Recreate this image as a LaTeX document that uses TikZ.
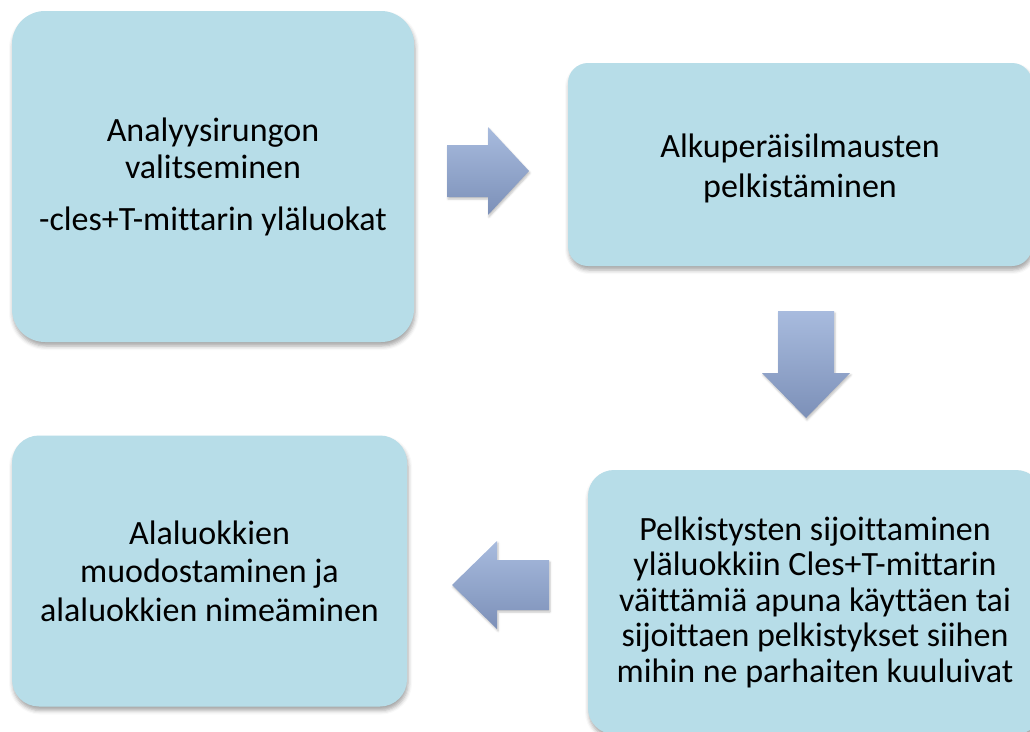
\documentclass[tikz,border=0pt]{standalone}
\usepackage{fontspec}
\setmainfont{Carlito}[Ligatures=NoCommon]
\usetikzlibrary{shadows.blur}
\definecolor{boxfill}{RGB}{183,221,232}
\definecolor{arrtop}{RGB}{168,187,222}
\definecolor{arrbot}{RGB}{124,144,184}
\tikzset{
  stepbox/.style={fill=boxfill, draw=none, align=center, text=black,
    font=\fontsize{34}{37}\selectfont, inner sep=0pt,
    blur shadow={shadow xshift=1pt, shadow yshift=-4pt, shadow blur radius=4pt, shadow opacity=35}},
  steptext/.style={align=center, text=black, inner sep=0pt},
  blockarrow/.style={top color=arrtop, bottom color=arrbot, draw=none,
    blur shadow={shadow xshift=1pt, shadow yshift=-2pt, shadow blur radius=2pt, shadow opacity=25}}
}
\begin{document}
\begin{tikzpicture}[x=1pt,y=-1pt]
\useasboundingbox (0,0) rectangle (1030,731);
\node[stepbox, minimum width=402pt, minimum height=331pt, rounded corners=33pt] (b1) at (213,176.5)
  {Analyysirungon\\valitseminen\\[15pt]-cles+T-mittarin yläluokat};
\node[stepbox, minimum width=464pt, minimum height=203pt, rounded corners=20pt] (b2) at (800,164.5) {};
\node[steptext, font=\fontsize{34}{40}\selectfont] (b2t) at ([yshift=-4pt]b2.center)
  {Alkuperäisilmausten\\pelkistäminen};
\node[stepbox, font=\fontsize{34}{35.5}\selectfont, minimum width=454pt, minimum height=264pt, rounded corners=26pt] (b3) at (815,602)
  {Pelkistysten sijoittaminen\\yläluokkiin Cles+T-mittarin\\väittämiä apuna käyttäen tai\\sijoittaen pelkistykset siihen\\mihin ne parhaiten kuuluivat};
\node[stepbox, font=\fontsize{34}{38.5}\selectfont, minimum width=395pt, minimum height=271pt, rounded corners=27pt] (b4) at (209.5,571)
  {Alaluokkien\\muodostaminen ja\\alaluokkien nimeäminen};
% right arrow
\path[blockarrow] (447,145) -- (488,145) -- (488,127) -- (529,171) -- (488,215) -- (488,197) -- (447,197) -- cycle;
% down arrow
\path[blockarrow] (778,311) -- (834,311) -- (834,373) -- (850,373) -- (806,418) -- (762,373) -- (778,373) -- cycle;
% left arrow
\path[blockarrow] (549,560) -- (497,560) -- (497,541) -- (452,585) -- (497,629) -- (497,610) -- (549,610) -- cycle;
\end{tikzpicture}
\end{document}
